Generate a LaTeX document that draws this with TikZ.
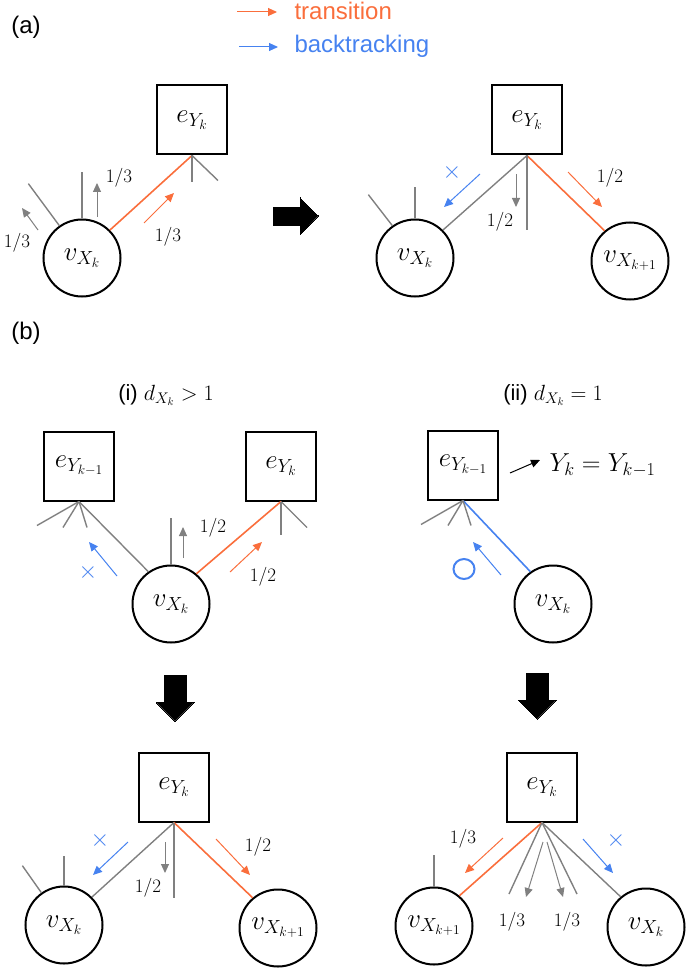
\RequirePackage{fix-cm}
\documentclass[tikz,border=0pt]{standalone}
\usepackage{fontspec}
\setmainfont{Liberation Sans}
\newfontfamily\numf{Latin Modern Roman}
\usetikzlibrary{arrows.meta,shapes.geometric}
\definecolor{tor}{RGB}{250,110,60}
\definecolor{tbl}{RGB}{70,130,240}
\definecolor{tgr}{RGB}{128,128,128}
\begin{document}
\begin{tikzpicture}[x=1pt,y=-1pt,
 box/.style={draw,line width=2pt,minimum width=70pt,minimum height=69pt,inner sep=0pt,font=\fontsize{27}{29}\selectfont},
 vert/.style={draw,line width=2pt,ellipse,minimum width=77pt,minimum height=77pt,inner sep=0pt,font=\fontsize{27}{29}\selectfont},
 ge/.style={tgr,line width=1.4pt},
 oe/.style={tor,line width=1.6pt},
 be/.style={tbl,line width=1.6pt},
 tip/.style={-{Triangle[length=9pt,width=8pt]}},
 ga/.style={tgr,line width=1pt,tip},
 oa/.style={tor,line width=1pt,tip},
 ba/.style={tbl,line width=1pt,tip},
 fr/.style={font=\numf\fontsize{19}{21}\selectfont},
 lab/.style={font=\fontsize{24}{26}\selectfont},
 xx/.style={tbl,font=\fontsize{24}{26}\selectfont},
 big/.style={line width=0pt,fill=black}]
\useasboundingbox (0,0) rectangle (685,968);
% ---------- (a)
\node[lab] (la) at (26,27) {(a)};
\coordinate (t1) at (237,12); \coordinate (t2) at (277,12);
\draw[oa] (t1) -- (t2);
\node[anchor=west,tor,font=\fontsize{24}{26}\selectfont] (tt) at (291,11) {transition};
\coordinate (b1) at (239,47); \coordinate (b2) at (278,47);
\draw[ba] (b1) -- (b2);
\node[anchor=west,tbl,font=\fontsize{24}{26}\selectfont] (bt) at (291,46) {backtracking};

\node[box] (a1e) at (192,120) {$e_{Y_k}$};
\node[vert] (a1v) at (82,258) {$v_{X_k}$};
\draw[oe] (a1e.south) -- (a1v.45);
\draw[ge] (a1e.south) -- ++(0,27);
\draw[ge] (a1e.south) -- ++(26,25);
\draw[ge] (a1v.90) -- ++(0,-46);
\draw[ge] (a1v.125) -- ++(-31,-42);
\draw[ga] (97,217) -- (97,183);
\node[fr] (f1) at (119,178) {1/3};
\draw[ga] (38,230) -- (22,208);
\node[fr] (f2) at (17,243) {1/3};
\draw[oa] (144,223) -- (174,193);
\node[fr] (f3) at (168,237) {1/3};

\draw[big] (273,208) -- (300,208) -- (300,198) -- (318,216) -- (300,235) -- (300,226) -- (273,226) -- cycle;

\node[box] (a2e) at (527,120) {$e_{Y_k}$};
\node[vert] (a2v) at (415,258) {$v_{X_k}$};
\node[vert] (a2w) at (630,261) {$v_{X_{k+1}}$};
\draw[ge] (a2e.south) -- (a2v.45);
\draw[oe] (a2e.south) -- (a2w.130);
\draw[ge] (a2e.south) -- ++(0,75);
\draw[ge] (a2v.90) -- ++(0,-31);
\draw[ge] (a2v.125) -- ++(-24,-31);
\draw[ba] (480,174) -- (444,207);
\node[xx] (x1) at (452,173) {$\times$};
\draw[ga] (516,174) -- (516,207);
\node[fr] (f4) at (500,222) {1/2};
\draw[oa] (568,172) -- (602,207);
\node[fr] (f5) at (610,178) {1/2};

% ---------- (b)
\node[lab] (lb) at (26,333) {(b)};
\node[font=\fontsize{22}{24}\selectfont] (ti) at (166,395) {(i) $d_{X_k} > 1$};
\node[font=\fontsize{22}{24}\selectfont] (tii) at (553,395) {(ii) $d_{X_k} = 1$};

\node[box] (b1p) at (79,466) {$e_{Y_{k-1}}$};
\node[box] (b1e) at (281,466) {$e_{Y_k}$};
\node[vert] (b1v) at (171,604) {$v_{X_k}$};
\draw[ge] (b1p.south) -- (b1v.125);
\draw[oe] (b1e.south) -- (b1v.50);
\draw[ge] (b1p.south) -- ++(-42,24);
\draw[ge] (b1p.south) -- ++(-16,26);
\draw[ge] (b1p.south) -- ++(8,26);
\draw[ge] (b1e.south) -- ++(0,33);
\draw[ge] (b1e.south) -- ++(26,26);
\draw[ge] (b1v.90) -- ++(0,-47);
\draw[ga] (183,558) -- (183,527);
\node[fr] (f6) at (213,528) {1/2};
\draw[oa] (230,572) -- (262,542);
\node[fr] (f7) at (263,577) {1/2};
\draw[ba] (117,576) -- (89,542);
\node[xx] (x2) at (88,572) {$\times$};

\node[box] (b2p) at (463,465) {$e_{Y_{k-1}}$};
\node[vert] (b2v) at (553,604) {$v_{X_k}$};
\draw[be] (b2p.south) -- (b2v.125);
\draw[ge] (b2p.south) -- ++(-42,24);
\draw[ge] (b2p.south) -- ++(-15,25);
\draw[ge] (b2p.south) -- ++(8,25);
\coordinate (yk1) at (510,473); \coordinate (yk2) at (540,460);
\draw[tip,line width=1pt] (yk1) -- (yk2);
\node[anchor=west,font=\fontsize{26}{28}\selectfont] (yk) at (546,465) {$Y_k = Y_{k-1}$};
\draw[ba] (501,575) -- (473,542);
\node[draw=tbl,ellipse,line width=2pt,minimum width=21pt,minimum height=20pt,inner sep=0pt] (o1) at (464,569) {};

\draw[big] (164,675) -- (186,675) -- (186,702) -- (194,702) -- (175,721) -- (156,702) -- (164,702) -- cycle;
\draw[big] (526,673) -- (548,673) -- (548,700) -- (556,700) -- (537,719) -- (518,700) -- (526,700) -- cycle;

% bottom (i)
\node[box] (c1e) at (174,787) {$e_{Y_k}$};
\node[vert] (c1v) at (64,925) {$v_{X_k}$};
\node[vert] (c1w) at (278,928) {$v_{X_{k+1}}$};
\draw[ge] (c1e.south) -- (c1v.45);
\draw[oe] (c1e.south) -- (c1w.130);
\draw[ge] (c1e.south) -- ++(0,75);
\draw[ge] (c1v.90) -- ++(0,-30);
\draw[ge] (c1v.125) -- ++(-19,-27);
\draw[ba] (128,842) -- (93,875);
\node[xx] (x3) at (100,840) {$\times$};
\draw[ga] (165,842) -- (165,873);
\node[fr] (f8) at (148,888) {1/2};
\draw[oa] (216,839) -- (250,875);
\node[fr] (f9) at (258,847) {1/2};

% bottom (ii)
\node[box] (c2e) at (542,787) {$e_{Y_k}$};
\node[vert] (c2w) at (434,926) {$v_{X_{k+1}}$};
\node[vert] (c2v) at (646,927) {$v_{X_k}$};
\draw[oe] (c2e.south) -- (c2w.50);
\draw[ge] (c2e.south) -- (c2v.130);
\coordinate (s1) at (509,894); \coordinate (s2) at (577,894);
\draw[ge] (c2e.south) -- (s1);
\draw[ge] (c2e.south) -- (s2);
\draw[ge] (c2w.90) -- ++(0,-32);
\draw[ga] (543,842) -- (526,897);
\draw[ga] (547,842) -- (563,897);
\node[fr] (f10) at (512,922) {1/3};
\node[fr] (f11) at (567,922) {1/3};
\draw[oa] (503,838) -- (465,873);
\node[fr] (f12) at (463,839) {1/3};
\draw[ba] (583,839) -- (613,873);
\node[xx] (x4) at (616,840) {$\times$};
\end{tikzpicture}
\end{document}
